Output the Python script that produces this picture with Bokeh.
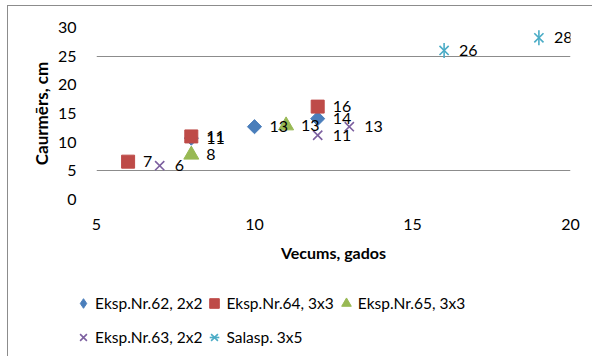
from bokeh.plotting import figure
from bokeh.layouts import column
from bokeh.models import Legend, LegendItem, FixedTicker, ColumnDataSource, Range1d, LabelSet
from bokeh.embed import file_html
from bokeh.resources import INLINE
from bokeh.core.properties import value

FONT = "Lato"

# data
x62 = [8, 10, 12]
y62 = [10.7, 12.7, 14.1]
t62 = ["11", "13", "14"]

x64 = [6, 8, 12]
y64 = [6.6, 11.0, 16.2]
t64 = ["7", "11", "16"]

x65 = [8, 11]
y65 = [7.8, 12.9]
t65 = ["8", "13"]

x63 = [7, 12, 13]
y63 = [5.9, 11.2, 12.7]
t63 = ["6", "11", "13"]

xs = [16, 19]
ys = [26.0, 28.2]
ts = ["26", "28"]

x_ticks = [5, 10, 15, 20]
y_ticks = [0, 5, 10, 15, 20, 25, 30]
grid_lines = [0, 5, 25, 30]

p = figure(width=584, height=270, output_backend="svg", toolbar_location=None,
           x_range=Range1d(5, 20), y_range=Range1d(0, 30),
           min_border_left=88, min_border_right=22, min_border_top=21, min_border_bottom=77)
p.outline_line_color = None
p.frame_align = False

p.xaxis.ticker = FixedTicker(ticks=x_ticks)
p.yaxis.ticker = FixedTicker(ticks=y_ticks)
p.xgrid.visible = False
p.ygrid.ticker = FixedTicker(ticks=grid_lines)
p.ygrid.grid_line_color = "#8c8c8c"
p.ygrid.grid_line_width = 1

for ax in (p.xaxis, p.yaxis):
    ax.axis_line_color = None
    ax.major_tick_line_color = None
    ax.minor_tick_line_color = None
    ax.major_label_text_font = FONT
    ax.major_label_text_font_size = "16px"
    ax.major_label_text_color = "#000000"
    ax.axis_label_text_font = FONT
    ax.axis_label_text_font_style = "bold"
    ax.axis_label_text_color = "#000000"

p.xaxis.axis_label = "Vecums, gados"
p.yaxis.axis_label = "Caurmērs, cm"
p.xaxis.axis_label_text_font_size = "16px"
p.yaxis.axis_label_text_font_size = "17px"
p.xaxis.major_label_standoff = 13
p.yaxis.major_label_standoff = 14
p.xaxis.axis_label_standoff = 10
p.yaxis.axis_label_standoff = 3

# (name, xs, ys, labels, main markers, legend markers, colour, size)
series = [
    ("Eksp.Nr.62, 2x2", x62, y62, t62, [("square", 0.785)], [("diamond", 0.0)], "#4a7ebb", 10),
    ("Eksp.Nr.64, 3x3", x64, y64, t64, [("square", 0.0)], [("square", 0.0)], "#be4b48", 13),
    ("Eksp.Nr.65, 3x3", x65, y65, t65, [("triangle", 0.0)], [("triangle", 0.0)], "#98b954", 15),
    ("Eksp.Nr.63, 2x2", x63, y63, t63, [("x", 0.0)], [("x", 0.0)], "#7d60a0", 13),
    ("Salasp. 3x5", xs, ys, ts, [("x", 0.0), ("dash", 1.5708)], [("x", 0.0), ("dash", 1.5708)],
     "#4bacc6", 13),
]

# legend strip below the chart (its own ranges keep the data out of view)
lf = figure(width=584, height=80, output_backend="svg", toolbar_location=None,
            x_range=Range1d(0, 1), y_range=Range1d(0, 1),
            x_axis_location=None, y_axis_location=None,
            min_border_left=0, min_border_right=0, min_border_top=0, min_border_bottom=0)
lf.grid.visible = False
lf.outline_line_color = None
lf.frame_align = False


def style(mk, ang, col, sz):
    if mk in ("x", "dash", "asterisk"):
        s = sz * 1.15 if mk == "dash" else sz
        return dict(marker=mk, size=s, angle=ang, line_color=col, line_width=1.6)
    return dict(marker=mk, size=sz, angle=ang, fill_color=col, line_color=col)


items = []
for name, xx, yy, tt, mains, legs, col, sz in series:
    src = ColumnDataSource(dict(x=xx, y=yy, t=tt))
    for mk, ang in mains:
        p.scatter("x", "y", source=src, **style(mk, ang, col, sz))
    lrs = [lf.scatter("x", "y", source=src, **style(mk, ang, col, sz)) for mk, ang in legs]
    items.append(LegendItem(label=name, renderers=lrs))
    lab = LabelSet(x="x", y="y", text="t", source=src, x_offset=15, y_offset=0,
                   text_font=value(FONT), text_font_size="16px", text_color="#000000",
                   text_baseline="middle")
    p.add_layout(lab)

common = dict(orientation="horizontal", label_text_font=FONT, label_text_font_size="15.5px",
              label_text_color="#000000", glyph_width=24, glyph_height=24, label_height=24,
              label_standoff=0, spacing=0, padding=0, margin=0, border_line_color=None,
              background_fill_alpha=0)
leg1 = Legend(items=items[:3], location=(63, 41), **common)
leg2 = Legend(items=items[3:], location=(63, 7), **common)
lf.add_layout(leg1, "center")
lf.add_layout(leg2, "center")

lay = column(p, lf, spacing=0)
lay.styles = {"border-left": "1px solid #8c8c8c", "border-top": "1px solid #8c8c8c",
              "margin-left": "7px", "margin-top": "5px"}

open("out.html", "w").write(file_html(lay, INLINE))
